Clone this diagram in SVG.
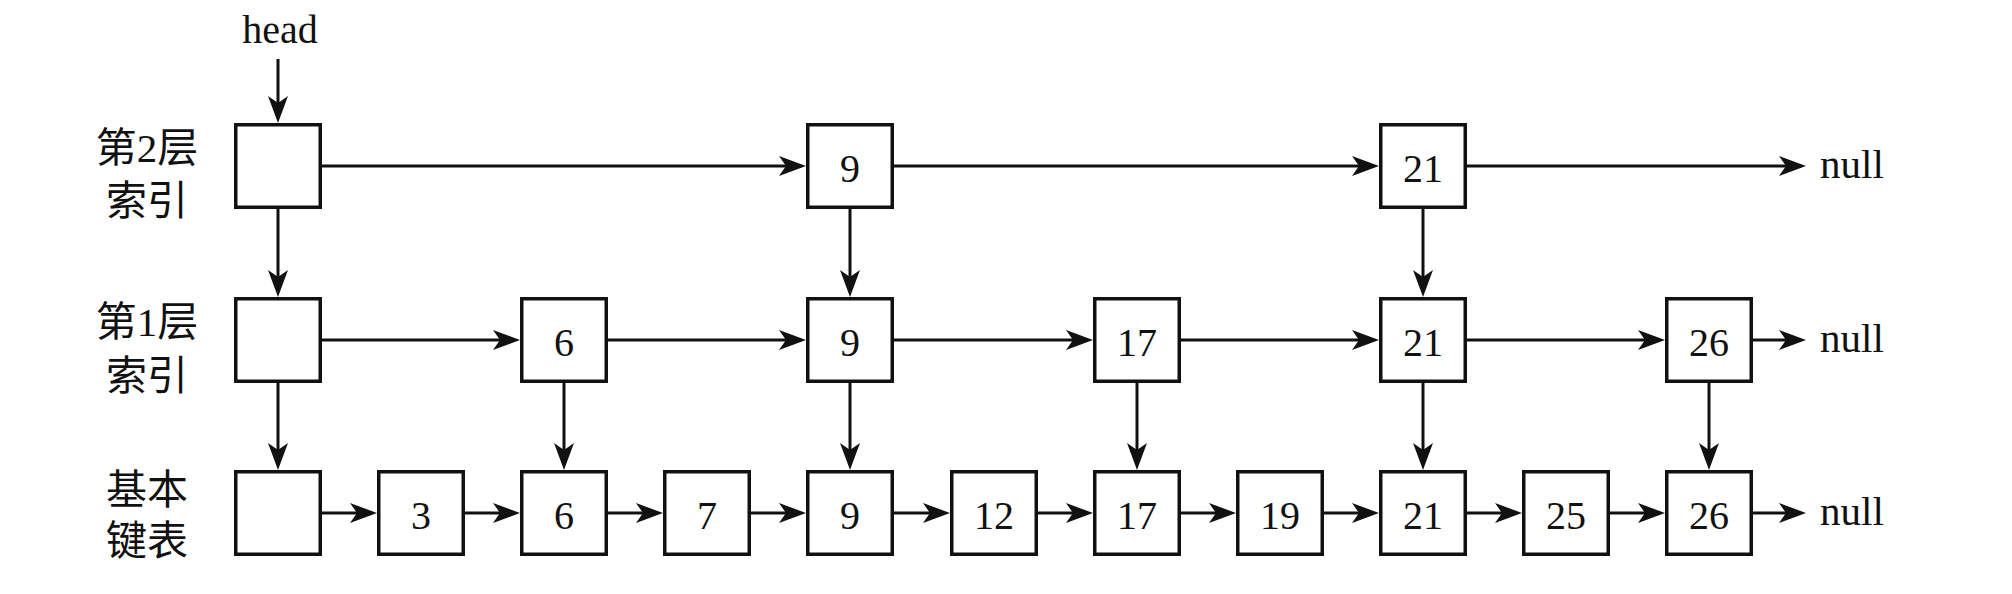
<svg xmlns="http://www.w3.org/2000/svg" width="2012" height="594" viewBox="0 0 2012 594">
<style>
.box{fill:#fff;stroke:#111;stroke-width:3.5}
.ln{stroke:#111;stroke-width:3;fill:none;marker-end:url(#ah)}
.t{font-family:"Liberation Serif","Noto Sans CJK SC",serif;font-size:40px;fill:#111;text-anchor:middle}
.lab{font-family:"Liberation Serif","Noto Sans CJK SC",serif;font-size:41px;fill:#111;text-anchor:middle}
.nl{font-family:"Liberation Serif",serif;font-size:41px;fill:#111}
</style>
<defs>
<marker id="ah" markerUnits="userSpaceOnUse" markerWidth="30" markerHeight="22" refX="7" refY="10" orient="auto" viewBox="0 0 30 22">
<path d="M0,0 L27,10 L0,20 L7,10 Z" fill="#111"/>
</marker>
</defs>
<rect width="2012" height="594" fill="#fff"/>
<g id="labels">
<text class="t" x="280" y="43">head</text>
<text class="lab" x="147" y="162">第2层</text>
<text class="lab" x="147" y="215">索引</text>
<text class="lab" x="147" y="336">第1层</text>
<text class="lab" x="147" y="390">索引</text>
<text class="lab" x="147" y="504">基本</text>
<text class="lab" x="147" y="555">键表</text>
<text class="nl" x="1820" y="178">null</text>
<text class="nl" x="1820" y="352">null</text>
<text class="nl" x="1820" y="525">null</text>
</g>
<g id="connectors">
<line class="ln" x1="278" y1="59" x2="278" y2="103"/>
<line class="ln" x1="322" y1="166" x2="786" y2="166"/>
<line class="ln" x1="894" y1="166" x2="1359" y2="166"/>
<line class="ln" x1="1467" y1="166" x2="1786" y2="166"/>
<line class="ln" x1="278" y1="209" x2="278" y2="277"/>
<line class="ln" x1="850" y1="209" x2="850" y2="277"/>
<line class="ln" x1="1423" y1="209" x2="1423" y2="277"/>
<line class="ln" x1="322" y1="340" x2="500" y2="340"/>
<line class="ln" x1="608" y1="340" x2="786" y2="340"/>
<line class="ln" x1="894" y1="340" x2="1073" y2="340"/>
<line class="ln" x1="1181" y1="340" x2="1359" y2="340"/>
<line class="ln" x1="1467" y1="340" x2="1645" y2="340"/>
<line class="ln" x1="1753" y1="340" x2="1786" y2="340"/>
<line class="ln" x1="278" y1="383" x2="278" y2="450"/>
<line class="ln" x1="564" y1="383" x2="564" y2="450"/>
<line class="ln" x1="850" y1="383" x2="850" y2="450"/>
<line class="ln" x1="1137" y1="383" x2="1137" y2="450"/>
<line class="ln" x1="1423" y1="383" x2="1423" y2="450"/>
<line class="ln" x1="1709" y1="383" x2="1709" y2="450"/>
<line class="ln" x1="322" y1="513" x2="357" y2="513"/>
<line class="ln" x1="465" y1="513" x2="500" y2="513"/>
<line class="ln" x1="608" y1="513" x2="643" y2="513"/>
<line class="ln" x1="751" y1="513" x2="786" y2="513"/>
<line class="ln" x1="894" y1="513" x2="930" y2="513"/>
<line class="ln" x1="1038" y1="513" x2="1073" y2="513"/>
<line class="ln" x1="1181" y1="513" x2="1216" y2="513"/>
<line class="ln" x1="1324" y1="513" x2="1359" y2="513"/>
<line class="ln" x1="1467" y1="513" x2="1502" y2="513"/>
<line class="ln" x1="1610" y1="513" x2="1645" y2="513"/>
<line class="ln" x1="1753" y1="513" x2="1786" y2="513"/>
</g>
<g id="l2-head"><rect class="box" x="235.75" y="124.75" width="84.5" height="82.5"/></g>
<g id="l2-9"><rect class="box" x="807.75" y="124.75" width="84.5" height="82.5"/><text class="t" x="850" y="182">9</text></g>
<g id="l2-21"><rect class="box" x="1380.75" y="124.75" width="84.5" height="82.5"/><text class="t" x="1423" y="182">21</text></g>
<g id="l1-head"><rect class="box" x="235.75" y="298.75" width="84.5" height="82.5"/></g>
<g id="l1-6"><rect class="box" x="521.75" y="298.75" width="84.5" height="82.5"/><text class="t" x="564" y="356">6</text></g>
<g id="l1-9"><rect class="box" x="807.75" y="298.75" width="84.5" height="82.5"/><text class="t" x="850" y="356">9</text></g>
<g id="l1-17"><rect class="box" x="1094.75" y="298.75" width="84.5" height="82.5"/><text class="t" x="1137" y="356">17</text></g>
<g id="l1-21"><rect class="box" x="1380.75" y="298.75" width="84.5" height="82.5"/><text class="t" x="1423" y="356">21</text></g>
<g id="l1-26"><rect class="box" x="1666.75" y="298.75" width="84.5" height="82.5"/><text class="t" x="1709" y="356">26</text></g>
<g id="l0-head"><rect class="box" x="235.75" y="471.75" width="84.5" height="82.5"/></g>
<g id="l0-3"><rect class="box" x="378.75" y="471.75" width="84.5" height="82.5"/><text class="t" x="421" y="529">3</text></g>
<g id="l0-6"><rect class="box" x="521.75" y="471.75" width="84.5" height="82.5"/><text class="t" x="564" y="529">6</text></g>
<g id="l0-7"><rect class="box" x="664.75" y="471.75" width="84.5" height="82.5"/><text class="t" x="707" y="529">7</text></g>
<g id="l0-9"><rect class="box" x="807.75" y="471.75" width="84.5" height="82.5"/><text class="t" x="850" y="529">9</text></g>
<g id="l0-12"><rect class="box" x="951.75" y="471.75" width="84.5" height="82.5"/><text class="t" x="994" y="529">12</text></g>
<g id="l0-17"><rect class="box" x="1094.75" y="471.75" width="84.5" height="82.5"/><text class="t" x="1137" y="529">17</text></g>
<g id="l0-19"><rect class="box" x="1237.75" y="471.75" width="84.5" height="82.5"/><text class="t" x="1280" y="529">19</text></g>
<g id="l0-21"><rect class="box" x="1380.75" y="471.75" width="84.5" height="82.5"/><text class="t" x="1423" y="529">21</text></g>
<g id="l0-25"><rect class="box" x="1523.75" y="471.75" width="84.5" height="82.5"/><text class="t" x="1566" y="529">25</text></g>
<g id="l0-26"><rect class="box" x="1666.75" y="471.75" width="84.5" height="82.5"/><text class="t" x="1709" y="529">26</text></g>
</svg>
